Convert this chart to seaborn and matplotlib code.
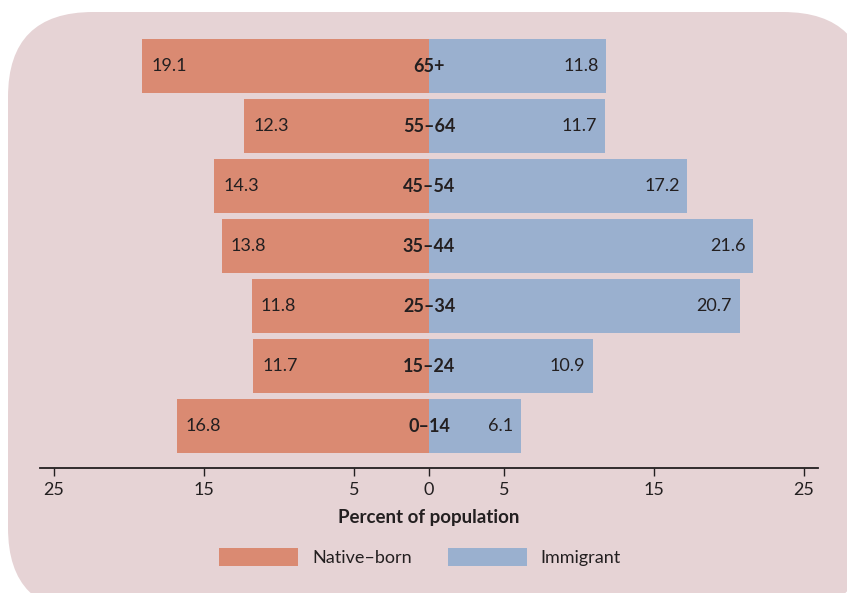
import matplotlib
matplotlib.use("Agg")
import matplotlib.pyplot as plt
from matplotlib.patches import FancyBboxPatch
import pandas as pd
import seaborn as sns

# Age groups, top to bottom
age_groups = ["65+", "55–64", "45–54", "35–44", "25–34", "15–24", "0–14"]
native_born = [19.1, 12.3, 14.3, 13.8, 11.8, 11.7, 16.8]
immigrant = [11.8, 11.7, 17.2, 21.6, 20.7, 10.9, 6.1]
tick_values = [-25, -15, -5, 0, 5, 15, 25]
tick_labels = ["25", "15", "5", "0", "5", "15", "25"]

NATIVE_COLOR = "#DA8A72"
IMM_COLOR = "#9AB0CF"
PANEL_COLOR = "#E6D3D5"
TEXT_COLOR = "#231F20"

sns.set_theme(style="white")
plt.rcParams["font.family"] = ["Lato", "DejaVu Sans"]

df = pd.concat([
    pd.DataFrame({"age": age_groups, "group": "Native–born",
                  "pct": [-v for v in native_born]}),
    pd.DataFrame({"age": age_groups, "group": "Immigrant", "pct": immigrant}),
])

W, H = 847, 593
fig = plt.figure(figsize=(W / 100, H / 100), dpi=100)
fig.patch.set_facecolor("white")

# rounded background panel (pixel coordinates)
panel = FancyBboxPatch((8, -20), 860, 593 - 12 + 20,
                       boxstyle="round,pad=0,rounding_size=85",
                       transform=None, facecolor=PANEL_COLOR,
                       edgecolor="none", zorder=-10)
fig.patches.append(panel)

ax = fig.add_axes([40 / W, 1 - 468 / H, 778 / W, (468 - 30) / H])
ax.set_facecolor("none")
ax.set_zorder(1)

sns.barplot(data=df, y="age", x="pct", hue="group", order=age_groups,
            hue_order=["Native–born", "Immigrant"], dodge=False, width=0.9,
            palette=[NATIVE_COLOR, IMM_COLOR], saturation=1, ax=ax,
            orient="h", legend=True, linewidth=0, edgecolor="none")

ax.set_xlim(-25.93, 25.93)
ax.set_ylim(6.7, -0.6)

for i, age in enumerate(age_groups):
    ax.text(-native_born[i] + 0.6, i, f"{native_born[i]:.1f}", ha="left",
            va="center", fontsize=13, color=TEXT_COLOR)
    ax.text(immigrant[i] - 0.5, i, f"{immigrant[i]:.1f}", ha="right",
            va="center", fontsize=13, color=TEXT_COLOR)
    ax.text(0, i, age, ha="center", va="center", fontsize=13,
            fontweight="bold", color=TEXT_COLOR)

for side in ["top", "right", "left"]:
    ax.spines[side].set_visible(False)
ax.spines["bottom"].set_color(TEXT_COLOR)
ax.spines["bottom"].set_linewidth(1.3)

ax.set_yticks([])
ax.set_ylabel("")
ax.set_xticks(tick_values)
ax.set_xticklabels(tick_labels)
ax.tick_params(axis="x", direction="out", length=6, width=1, color=TEXT_COLOR,
               labelsize=13, labelcolor=TEXT_COLOR, pad=4, bottom=True)
ax.set_xlabel("Percent of population", fontsize=13.5, fontweight="bold",
              color=TEXT_COLOR, labelpad=8)

handles, labels = ax.get_legend_handles_labels()
ax.legend(handles, labels, loc="center", bbox_to_anchor=(420 / W, 1 - 557 / H),
          bbox_transform=fig.transFigure, ncol=2, frameon=False,
          handlelength=4.4, handleheight=1.2, handletextpad=0.75,
          columnspacing=2.0, fontsize=13, labelcolor=TEXT_COLOR)

fig.savefig("out.png", dpi=100, facecolor=fig.get_facecolor())
